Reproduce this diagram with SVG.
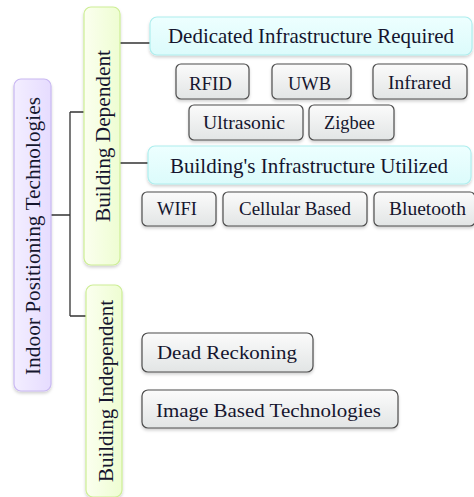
<svg xmlns="http://www.w3.org/2000/svg" width="474" height="497" viewBox="0 0 474 497">
<defs>
<linearGradient id="gGray" x1="0" y1="0" x2="0" y2="1"><stop offset="0" stop-color="#fbfbfb"/><stop offset="1" stop-color="#e2e5e5"/></linearGradient>
<linearGradient id="gPurple" x1="0" y1="0" x2="1" y2="0"><stop offset="0" stop-color="#f3eeff"/><stop offset="1" stop-color="#e6dcff"/></linearGradient>
<linearGradient id="gGreen" x1="0" y1="0" x2="1" y2="0"><stop offset="0" stop-color="#fbffef"/><stop offset="1" stop-color="#eefdd2"/></linearGradient>
<linearGradient id="gCyan" x1="0" y1="0" x2="0" y2="1"><stop offset="0" stop-color="#edffff"/><stop offset="1" stop-color="#dcfbfb"/></linearGradient>
<filter id="sh" x="-10%" y="-10%" width="120%" height="130%"><feDropShadow dx="0" dy="2" stdDeviation="1.5" flood-color="#000" flood-opacity="0.18"/></filter>
</defs>
<style>
text{fill:#15152e}
.main{font-size:21px}
.leaf{font-size:19px}
.gray{fill:url(#gGray);stroke:#4d4d4d;stroke-width:1.2}
.purple{fill:url(#gPurple);stroke:#c9b8f2;stroke-width:1.2}
.green{fill:url(#gGreen);stroke:#cdee95;stroke-width:1.2}
.cyan{fill:url(#gCyan);stroke:#aeeeee;stroke-width:1.2}
.conn{fill:none;stroke:#333;stroke-width:1.3}
</style>
<g id="connectors">
<path class="conn" d="M51 215H70M70 112V316M70 112H84M70 316H86"/>
<path class="conn" d="M120 43H150M120 163H148"/>
</g>
<g font-family="'Liberation Serif', 'DejaVu Serif', serif">
<g id="root">
<rect class="purple" x="14" y="79" width="37" height="312" rx="7" filter="url(#sh)"/>
<text class="main" transform="translate(40,236) rotate(-90)" text-anchor="middle" textLength="278" lengthAdjust="spacingAndGlyphs">Indoor Positioning Technologies</text>
</g>
<g id="building-dependent">
<rect class="green" x="84" y="7" width="36" height="258" rx="7" filter="url(#sh)"/>
<text class="main" transform="translate(110,136) rotate(-90)" text-anchor="middle" textLength="172" lengthAdjust="spacingAndGlyphs">Building Dependent</text>
</g>
<g id="building-independent">
<rect class="green" x="86" y="285" width="36" height="212" rx="7" filter="url(#sh)"/>
<text class="main" transform="translate(113,391) rotate(-90)" text-anchor="middle" textLength="182" lengthAdjust="spacingAndGlyphs">Building Independent</text>
</g>
<g id="dedicated">
<rect class="cyan" x="150" y="17" width="322" height="38" rx="7" filter="url(#sh)"/>
<text class="main" x="311" y="43" text-anchor="middle" textLength="286" lengthAdjust="spacingAndGlyphs">Dedicated Infrastructure Required</text>
</g>
<g id="utilized">
<rect class="cyan" x="148" y="146" width="323" height="38" rx="7" filter="url(#sh)"/>
<text class="main" x="309" y="173" text-anchor="middle" textLength="278" lengthAdjust="spacingAndGlyphs">Building's Infrastructure Utilized</text>
</g>
<g id="rfid">
<rect class="gray" x="176" y="64" width="73" height="35" rx="5" filter="url(#sh)"/>
<text class="leaf" x="210.5" y="90" text-anchor="middle" textLength="43" lengthAdjust="spacingAndGlyphs">RFID</text>
</g>
<g id="uwb">
<rect class="gray" x="272" y="64" width="79" height="35" rx="5" filter="url(#sh)"/>
<text class="leaf" x="309.5" y="90" text-anchor="middle" textLength="43" lengthAdjust="spacingAndGlyphs">UWB</text>
</g>
<g id="infrared">
<rect class="gray" x="373" y="64" width="94" height="35" rx="5" filter="url(#sh)"/>
<text class="leaf" x="419.5" y="89" text-anchor="middle" textLength="63" lengthAdjust="spacingAndGlyphs">Infrared</text>
</g>
<g id="ultrasonic">
<rect class="gray" x="189" y="105" width="114" height="35" rx="5" filter="url(#sh)"/>
<text class="leaf" x="244" y="129" text-anchor="middle" textLength="82" lengthAdjust="spacingAndGlyphs">Ultrasonic</text>
</g>
<g id="zigbee">
<rect class="gray" x="309" y="105" width="85" height="35" rx="5" filter="url(#sh)"/>
<text class="leaf" x="349.5" y="129" text-anchor="middle" textLength="51" lengthAdjust="spacingAndGlyphs">Zigbee</text>
</g>
<g id="wifi">
<rect class="gray" x="142" y="192" width="74" height="34" rx="5" filter="url(#sh)"/>
<text class="leaf" x="177" y="215" text-anchor="middle" textLength="40" lengthAdjust="spacingAndGlyphs">WIFI</text>
</g>
<g id="cellular">
<rect class="gray" x="223" y="192" width="144" height="34" rx="5" filter="url(#sh)"/>
<text class="leaf" x="295" y="215" text-anchor="middle" textLength="112" lengthAdjust="spacingAndGlyphs">Cellular Based</text>
</g>
<g id="bluetooth">
<rect class="gray" x="374" y="192" width="101" height="34" rx="5" filter="url(#sh)"/>
<text class="leaf" x="427.5" y="215" text-anchor="middle" textLength="77" lengthAdjust="spacingAndGlyphs">Bluetooth</text>
</g>
<g id="dead-reckoning">
<rect class="gray" x="142" y="333" width="171" height="39" rx="6" filter="url(#sh)"/>
<text class="leaf" x="227" y="359" text-anchor="middle" textLength="140" lengthAdjust="spacingAndGlyphs">Dead Reckoning</text>
</g>
<g id="image-based">
<rect class="gray" x="142" y="390" width="256" height="38" rx="6" filter="url(#sh)"/>
<text class="leaf" x="268.5" y="417" text-anchor="middle" textLength="225" lengthAdjust="spacingAndGlyphs">Image Based Technologies</text>
</g>
</g>
</svg>
